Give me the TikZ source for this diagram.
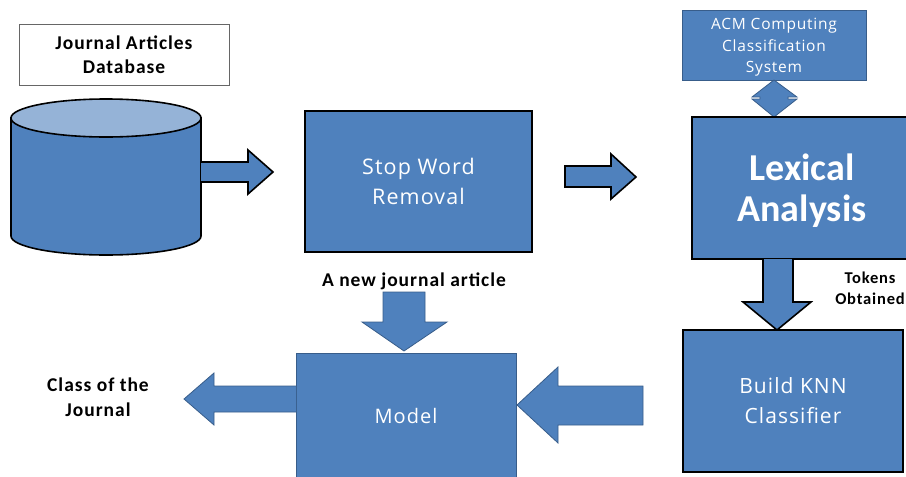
\documentclass[tikz,border=0pt]{standalone}
\usepackage{fontspec}
\setmainfont{Carlito}
\newfontfamily\boxfont[LetterSpace=5]{Open Sans}
\newfontfamily\labfont[LetterSpace=5]{Carlito}
\usetikzlibrary{calc}
\definecolor{fillblue}{HTML}{4F81BD}
\definecolor{lightblue}{HTML}{95B3D7}
\definecolor{edgeblue}{HTML}{385D8A}
\tikzset{
  blackbox/.style={draw=black, line width=2pt, fill=fillblue, text=white, align=center, inner sep=0pt},
  thinbox/.style={draw=edgeblue, line width=0.8pt, fill=fillblue, text=white, align=center, inner sep=0pt},
  blackarrow/.style={draw=black, line width=1.6pt, fill=fillblue, line join=miter},
  thinarrow/.style={draw=edgeblue, line width=0.8pt, fill=fillblue, line join=miter},
  label/.style={text=black, align=center, inner sep=0pt},
}
\begin{document}
\begin{tikzpicture}[x=1pt,y=-1pt]
\useasboundingbox (0,0) rectangle (906,477);
\clip (0,0) rectangle (906,477);

% database title box
\node[draw=black!60, line width=0.8pt, fill=white, minimum width=210pt, minimum height=61pt, inner sep=0pt,
      font=\labfont\fontsize{19.5}{24}\selectfont\bfseries, align=center] (dbtitle) at (124,55) {Journal Articles\\Database};

% cylinder
\coordinate (cyl) at (106,178);
\draw[black, line width=1.6pt, fill=fillblue] (11,118) -- (11,236) arc[start angle=180, end angle=360, x radius=95pt, y radius=19pt] -- (201,118) -- cycle;
\draw[black, line width=1.6pt, fill=lightblue] (106,118) ellipse[x radius=95pt, y radius=19pt];

% arrow cylinder -> stop word
\draw[blackarrow] (201,162) -- (248,162) -- (248,150) -- (273,172) -- (248,194) -- (248,182) -- (201,182);

% Stop word removal
\node[blackbox, minimum width=227pt, minimum height=141pt, font=\boxfont\fontsize{21.5}{30}\selectfont] (stop) at (418.5,181.5) {Stop Word\\Removal};

% arrow stop -> lexical
\draw[blackarrow] (565,166) -- (611,166) -- (611,154) -- (636,177) -- (611,199) -- (611,187) -- (565,187) -- cycle;

% ACM box
\node[thinbox, minimum width=184pt, minimum height=70pt] (acm) at (774,45) {};
\node[text=white, align=center, inner sep=0pt, font=\boxfont\fontsize{15.5}{21.5}\selectfont] (acmtext) at (774,47.5) {ACM Computing\\Classification\\System};

% up-down connector
\draw[thinarrow] (774,80) -- (797,97) -- (788,97) -- (788,99) -- (797,99) -- (774,117) -- (752,99) -- (760,99) -- (760,97) -- (752,97) -- cycle;

% Lexical analysis
\node[blackbox, minimum width=220pt, minimum height=142pt] (lex) at (802,188) {};
\node[text=white, align=center, font=\fontsize{38}{41}\selectfont\bfseries, inner sep=0pt] (lextext) at (802,191) {Lexical\\Analysis};

% down arrow lex -> knn
\draw[blackarrow] (763,259) -- (763,302) -- (743,302) -- (777,330) -- (811,302) -- (793,302) -- (793,259);
\node[label, font=\labfont\fontsize{16.5}{21}\selectfont\bfseries] (tokens) at (870,288) {Tokens\\Obtained};

% Build KNN
\node[blackbox, minimum width=220pt, minimum height=142pt, font=\boxfont\fontsize{21}{30}\selectfont] (knn) at (793,401) {Build KNN\\Classifier};

% arrow knn -> model
\draw[thinarrow] (643,386) -- (558,386) -- (558,367) -- (517,405) -- (558,443) -- (558,425) -- (643,425) -- cycle;

% Model
\node[thinbox, minimum width=220pt, minimum height=140pt, anchor=north west] (model) at (296,353) {};
\node[text=white, font=\boxfont\fontsize{20}{24}\selectfont, inner sep=0pt] (modeltext) at (406,416) {Model};

% new article arrow
\node[label, font=\labfont\fontsize{19.5}{24}\selectfont\bfseries] (newart) at (414,281) {A new journal article};
\draw[thinarrow] (383,292) -- (425,292) -- (425,322) -- (447,322) -- (404,351) -- (362,322) -- (383,322) -- cycle;

% model -> class
\draw[thinarrow] (296,386) -- (214,386) -- (214,373) -- (184,399) -- (214,425) -- (214,412) -- (296,412);
\node[label, font=\labfont\fontsize{19.5}{25}\selectfont\bfseries] (class) at (98,397) {Class of the\\Journal};
\end{tikzpicture}
\end{document}
